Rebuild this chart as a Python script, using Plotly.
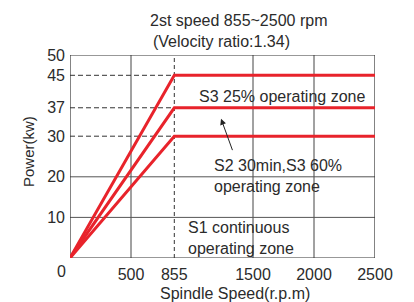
import plotly.graph_objects as go

speed_pts = [0, 855, 2500]
s3_25 = [0, 45, 45]
s2_s3_60 = [0, 37, 37]
s1 = [0, 30, 30]
series = [s3_25, s2_s3_60, s1]

x_ticks = [500, 855, 1500, 2000, 2500]
x_solid_grid = [500, 1500, 2000]
base_speed = 855
y_ticks = [10, 20, 30, 37, 45, 50]
y_solid_grid = [10, 20]
y_dashed = [30, 37, 45]
x_max, y_max = 2500, 50

title1 = "2st speed 855~2500 rpm"
title2 = "(Velocity ratio:1.34)"

FONT = "Liberation Sans, Arial, Helvetica, sans-serif"
TXT = "#2b2b2b"
RED = "#e8232b"

# page body adds an 8px offset
OFF = 8
W, H = 414 - OFF, 302 - OFF
L, R, T, B = 70 - OFF, 39, 55 - OFF, 44

fig = go.Figure()
for s in series:
    fig.add_trace(go.Scatter(x=speed_pts, y=s, mode="lines",
                             line=dict(color=RED, width=3), showlegend=False,
                             hoverinfo="skip"))

shapes = []
for xv in x_solid_grid:
    shapes.append(dict(type="line", xref="x", yref="y", x0=xv, x1=xv, y0=0, y1=y_max,
                       line=dict(color="#444", width=1), layer="below"))
for yv in y_solid_grid:
    shapes.append(dict(type="line", xref="x", yref="y", x0=0, x1=x_max, y0=yv, y1=yv,
                       line=dict(color="#555", width=1), layer="below"))
shapes.append(dict(type="line", xref="x", yref="y", x0=base_speed, x1=base_speed, y0=0, y1=y_max,
                   line=dict(color="#333", width=1, dash="4px,3px"), layer="below"))
for yv in y_dashed:
    shapes.append(dict(type="line", xref="x", yref="y", x0=0, x1=base_speed, y0=yv, y1=yv,
                       line=dict(color="#333", width=1, dash="5px,3px"), layer="below"))
shapes.append(dict(type="rect", xref="x", yref="y", x0=0, x1=x_max, y0=0, y1=y_max,
                   line=dict(color="#333", width=1.2), layer="below"))

annotations = []
def px_ann(text, x, y, xanchor="center", size=16, angle=0):
    x, y = x - OFF, y - OFF
    pw, ph = W - L - R, H - T - B
    return dict(text=text, xref="paper", yref="paper", x=(x - L) / pw, y=(H - B - y) / ph,
                xanchor=xanchor, yanchor="middle", showarrow=False, textangle=angle,
                font=dict(family=FONT, size=size, color=TXT))

annotations.append(px_ann(title1, 238, 20))
annotations.append(px_ann(title2, 221, 42))
annotations.append(px_ann("0", 61, 271))
annotations.append(px_ann("Spindle Speed(r.p.m)", 235, 293))
annotations.append(px_ann("Power(kw)", 28, 152, size=15, angle=-90))

annotations.append(dict(text="S3 25% operating zone", xref="x", yref="y", x=1041, y=39.8,
                        xanchor="left", yanchor="middle", showarrow=False,
                        font=dict(family=FONT, size=16, color=TXT)))
annotations.append(dict(text="S2 30min,S3 60%<br>operating zone", xref="x", yref="y", x=1161, y=20.2,
                        xanchor="left", yanchor="middle", showarrow=False, align="left",
                        font=dict(family=FONT, size=16, color=TXT)))
annotations.append(dict(text="S1 continuous<br>operating zone", xref="x", yref="y", x=951, y=4.9,
                        xanchor="left", yanchor="middle", showarrow=False, align="left",
                        font=dict(family=FONT, size=16, color=TXT)))
annotations.append(dict(text="", xref="x", yref="y", x=1238, y=34.3, ax=1336, ay=26.2,
                        axref="x", ayref="y", showarrow=True, arrowhead=2, arrowsize=1.2,
                        arrowwidth=1, arrowcolor="#222"))

fig.update_layout(
    width=W, height=H,
    margin=dict(l=L, r=R, t=T, b=B),
    paper_bgcolor="white", plot_bgcolor="white",
    shapes=shapes, annotations=annotations,
    font=dict(family=FONT, size=16, color=TXT),
    xaxis=dict(range=[0, x_max], tickvals=x_ticks, showgrid=False, zeroline=False,
               showline=False, ticks="", tickfont=dict(size=16, color=TXT), ticklabelstandoff=5),
    yaxis=dict(range=[0, y_max], tickvals=y_ticks, showgrid=False, zeroline=False,
               showline=False, ticks="", tickfont=dict(size=16, color=TXT), ticklabelstandoff=4),
)

fig.write_html("out.html")
